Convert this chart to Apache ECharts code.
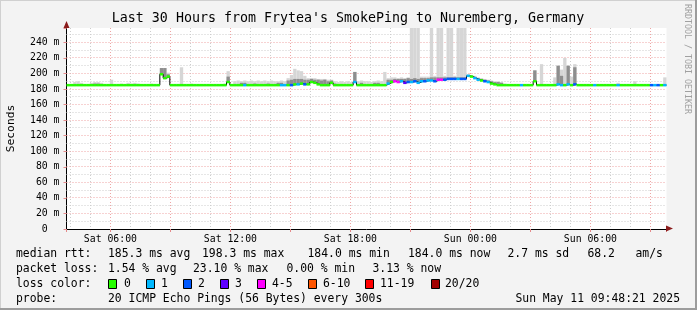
<!DOCTYPE html>
<html><head><meta charset="utf-8">
<script src="https://cdn.jsdelivr.net/npm/echarts@6/dist/echarts.min.js"></script>
<style>html,body{margin:0;padding:0;background:#f3f3f3}#c{width:697px;height:310px}</style>
</head><body><div id="c"></div>
<script>
// ---- data (10-minute slots, 30 hours, starting Sat 03:48:21) ----
const startHour = 3 + 48/60 + 21/3600;
const stepHours = 10/60;
const spanHours = 30;

const median = [
185,185,185,185,185,185,185,185,185,185,185,185,185,185,185,185,185,185,185,185,
185,185,185,185,185,185,185,185,199,194,196,185,185,185,185,185,185,185,185,185,
185,185,185,185,185,185,185,185,189,185,185,185,185,185,185,185,185,185,185,185,
185,185,185,185,185,185,185,185,186,186,187,186,186,189,188,186,185,185,185,188,
185,185,185,185,185,185,189,185,185,185,185,185,185,185,185,185,187,189,190,189,
190,188,189,189,190,188,190,190,191,191,190,192,192,192,193,193,193,193,193,193,
197,196,194,192,191,190,189,187,186,185,185,185,185,185,185,185,185,185,185,185,
190,185,185,185,185,185,185,186,185,185,186,185,186,185,185,185,185,185,185,185,
185,185,185,185,185,185,185,185,185,185,185,185,185,185,185,185,185,185,185,185];

const loss = [
0,0,0,0,0,0,0,0,0,0,0,0,0,0,0,0,0,0,0,0,
0,0,0,0,0,0,0,0,0,0,0,0,0,0,0,0,0,0,0,0,
0,0,0,0,0,0,0,0,0,0,0,0,0,1,0,0,0,0,0,0,
0,0,0,0,1,1,0,2,0,1,0,2,0,0,0,0,0,0,0,0,
0,0,0,0,0,0,1,0,0,0,0,0,0,0,0,0,1,0,4,4,
1,3,2,1,2,1,1,2,1,1,2,4,4,2,2,2,2,1,2,2,
1,0,1,1,0,2,1,0,0,0,0,0,0,0,0,0,1,0,0,0,
0,0,0,0,0,0,0,1,1,0,1,0,2,0,0,0,0,0,1,0,
0,0,0,0,0,1,0,0,0,0,0,0,0,0,0,2,1,2,0,1];

const smokeLight = [
185,185,189,190,188,185,185,188,189,189,188,185,185,192,185,185,187,185,188,187,
188,187,185,185,185,187,185,185,207,207,201,185,185,185,208,185,185,187,185,185,
185,185,185,185,185,185,185,187,203,186,190,191,190,191,190,191,190,191,190,191,
190,191,190,190,191,190,194,198,206,204,203,197,194,194,194,193,193,193,192,192,
190,189,190,189,190,189,202,190,191,190,190,189,190,191,190,202,194,195,195,194,
195,194,195,260,260,260,196,196,196,260,197,260,260,197,260,260,197,260,260,260,
199,198,197,195,194,193,192,191,190,190,189,187,185,185,185,185,185,185,185,185,
204,185,212,185,185,185,195,210,205,220,210,196,212,185,185,185,185,185,185,185,
185,185,185,185,185,188,185,185,185,185,190,185,185,185,185,185,185,185,185,195];

const smokeDark = [
185,185,185,185,185,185,185,185,187,187,185,185,185,185,185,185,185,185,185,185,
185,185,185,185,185,185,185,185,207,207,199,185,185,185,185,185,185,185,185,185,
185,185,185,185,185,185,185,185,196,185,185,185,188,188,185,185,187,185,185,185,
187,185,185,188,188,185,191,192,193,193,193,192,192,193,192,192,191,192,190,191,
187,185,185,185,185,185,202,185,188,185,185,185,188,188,185,185,192,192,193,193,
193,193,194,193,194,193,194,194,194,195,195,195,195,195,195,195,195,195,195,195,
197,196,195,194,193,192,191,190,189,189,188,185,185,185,185,185,185,185,185,185,
204,185,185,185,185,185,185,210,197,185,210,185,208,185,185,185,185,185,185,185,
185,185,185,185,185,185,185,185,185,185,185,185,185,185,185,185,185,185,185,185];

const lossColors = ['#26ff00','#00b8ff','#0059ff','#5e00ff','#ff00ff','#ff5500','#ff0000','#a10000'];
const lossLabels = ['0','1','2','3','4-5','6-10','11-19','20/20'];

const hourTicks = [4,5,6,7,8,9,10,11,12,13,14,15,16,17,18,19,20,21,22,23,24,25,26,27,28,29,30,31,32,33];
const majorHourTicks = [6,9,12,15,18,21,24,27,30,33];
const msMinorTicks = [10,30,50,70,90,110,130,150,170,190,210,230,250];
const msMajorTicks = [20,40,60,80,100,120,140,160,180,200,220,240];
const yMax = 258.5;

const titleText = "Last 30 Hours from Frytea's SmokePing to Nuremberg, Germany";
const rttRow = ['median rtt:','185.3 ms avg','198.3 ms max','184.0 ms min','184.0 ms now','2.7 ms sd','68.2','am/s'];
const lossRow = ['packet loss:','1.54 % avg','23.10 % max','0.00 % min','3.13 % now'];
const probeRow = ['probe:','20 ICMP Echo Pings (56 Bytes) every 300s'];
const dateText = 'Sun May 11 09:48:21 2025';
const vendorText = 'RRDTOOL / TOBI OETIKER';

// ---- chart ----
const FONT = "'DejaVu Sans Mono', monospace";
const times = median.map((_, i) => startHour + i * stepHours);

function vGrid(values, color) {
  return {
    type: 'custom', z: 1, silent: true, clip: false,
    data: values.map(v => [v, 0]),
    encode: {x: 0, y: 1},
    renderItem(params, api) {
      const cs = params.coordSys;
      const x = Math.floor(api.coord([api.value(0), 0])[0]) + 0.5;
      return {type: 'line', shape: {x1: x, y1: cs.y, x2: x, y2: cs.y + cs.height},
              style: {stroke: color, lineWidth: 1, lineDash: [1, 2]}};
    }
  };
}
function hGrid(values, color) {
  return {
    type: 'custom', z: 1, silent: true, clip: false,
    data: values.map(v => [startHour, v]),
    encode: {x: 0, y: 1},
    renderItem(params, api) {
      const cs = params.coordSys;
      const y = Math.floor(api.coord([startHour, api.value(1)])[1]) + 0.5;
      return {type: 'line', shape: {x1: cs.x, y1: y, x2: cs.x + cs.width, y2: y},
              style: {stroke: color, lineWidth: 1, lineDash: [1, 2]}};
    }
  };
}
function smoke(tops, color, z) {
  return {
    type: 'custom', z: z, silent: true, clip: true,
    data: times.map((t, i) => [t, t + stepHours, median[i], tops[i]]),
    encode: {x: [0, 1], y: [2, 3]},
    renderItem(params, api) {
      if (api.value(3) <= api.value(2)) return null;
      const cs = params.coordSys;
      const a = api.coord([api.value(0), api.value(3)]);
      const b = api.coord([api.value(1), api.value(2)]);
      const top = Math.max(a[1], cs.y);
      return {type: 'rect', shape: {x: a[0], y: top, width: b[0] - a[0], height: b[1] - top},
              style: {fill: color}};
    }
  };
}

const stepData = times.map((t, i) => [t, median[i]]);
stepData.push([startHour + median.length * stepHours, median[median.length - 1]]);

const xLabel = v => {
  const r = v / 6;
  if (Math.abs(r - Math.round(r)) > 1e-6) return '';
  const h = Math.round(v);
  const d = h < 24 ? 'Sat' : 'Sun';
  return d + ' ' + String(h % 24).padStart(2, '0') + ':00';
};

const graphics = [];
// frame
graphics.push({type:'rect', shape:{x:0,y:0,width:697,height:1}, style:{fill:'#d0d0d0'}, silent:true});
graphics.push({type:'rect', shape:{x:0,y:0,width:1,height:310}, style:{fill:'#d0d0d0'}, silent:true});
graphics.push({type:'rect', shape:{x:695,y:0,width:2,height:310}, style:{fill:'#9c9c9c'}, silent:true});
graphics.push({type:'rect', shape:{x:0,y:308,width:697,height:2}, style:{fill:'#9c9c9c'}, silent:true});
// arrows
graphics.push({type:'polygon', shape:{points:[[63.5,28],[66.5,21],[69.5,28]]}, style:{fill:'#8b1c1c'}, silent:true, z:100});
graphics.push({type:'polygon', shape:{points:[[666,225.5],[673,228.5],[666,231.5]]}, style:{fill:'#8b1c1c'}, silent:true, z:100});
// title
graphics.push({type:'text', x:348, y:19, style:{text:titleText, font:'13.3px ' + FONT, fill:'#000', align:'center', verticalAlign:'middle'}});
graphics.push({type:'text', x:687, y:59, rotation:-Math.PI/2, style:{text:vendorText, font:'8.3px ' + FONT, fill:'#a0a0a0', align:'center', verticalAlign:'middle'}});
const LF = '11.4px ' + FONT;
const rttX = [16,108,202,307.5,408,507.5,587.5,635.5];
rttRow.forEach((s, i) => graphics.push({type:'text', x:rttX[i], y:254, style:{text:s, font:LF, fill:'#000', align:'left', verticalAlign:'middle'}}));
const lossX = [16,108,193,286.5,372.5];
lossRow.forEach((s, i) => graphics.push({type:'text', x:lossX[i], y:269, style:{text:s, font:LF, fill:'#000', align:'left', verticalAlign:'middle'}}));
graphics.push({type:'text', x:16, y:284, style:{text:'loss color:', font:LF, fill:'#000', align:'left', verticalAlign:'middle'}});
const boxX = [108,146,183,220,257,308,365,431];
const boxLabelX = [124,161,198,235,272,323,380,445];
lossLabels.forEach((s, i) => {
  graphics.push({type:'rect', shape:{x:boxX[i]+0.5, y:279.5, width:8, height:9}, style:{fill:lossColors[i], stroke:'#000', lineWidth:1}});
  graphics.push({type:'text', x:boxLabelX[i], y:284, style:{text:s, font:LF, fill:'#000', align:'left', verticalAlign:'middle'}});
});
const probeX = [16,108];
probeRow.forEach((s, i) => graphics.push({type:'text', x:probeX[i], y:299, style:{text:s, font:LF, fill:'#000', align:'left', verticalAlign:'middle'}}));
graphics.push({type:'text', x:680, y:299, style:{text:dateText, font:LF, fill:'#000', align:'right', verticalAlign:'middle'}});

const chart = echarts.init(document.getElementById('c'), null, {renderer:'canvas', width:697, height:310});
chart.setOption({
  animation: false,
  backgroundColor: '#f3f3f3',
  grid: {left: 66.5, top: 28, width: 600, height: 201, show: true, backgroundColor: '#ffffff', borderWidth: 0,
         containLabel: false, outerBoundsMode: 'none'},
  xAxis: {
    type: 'value', min: startHour, max: startHour + spanHours, minInterval: 3, maxInterval: 3, splitNumber: 10,
    splitLine: {show: false},
    axisLine: {show: true, onZero: false, lineStyle: {color: '#000', width: 1}},
    axisTick: {show: true, length: 3, lineStyle: {color: '#e58a8a'}},
    axisLabel: {interval: 0, formatter: xLabel, color: '#000', fontFamily: FONT, fontSize: 9.8, margin: 5, showMinLabel: true, showMaxLabel: true}
  },
  yAxis: {
    type: 'value', min: 0, max: yMax, interval: 20,
    name: 'Seconds', nameLocation: 'middle', nameGap: 50, nameRotate: 90,
    nameTextStyle: {color: '#000', fontFamily: FONT, fontSize: 11.3},
    splitLine: {show: false},
    axisLine: {show: true, lineStyle: {color: '#000', width: 1}},
    axisTick: {show: true, length: 3, lineStyle: {color: '#e58a8a'}},
    axisLabel: {color: '#000', fontFamily: FONT, fontSize: 9.8, margin: 7,
      formatter: v => (Math.abs(v % 20) > 1e-6 ? '' : (v === 0 ? '0  ' : v + ' m'))}
  },
  graphic: graphics,
  series: [
    vGrid(hourTicks, '#cdcdcd'),
    hGrid(msMinorTicks, '#cdcdcd'),
    vGrid(majorHourTicks, '#eea5a5'),
    hGrid(msMajorTicks, '#eea5a5'),
    smoke(smokeLight, '#d6d6d6', 3),
    smoke(smokeDark, '#8e8e8e', 4),
    {type: 'line', z: 5, step: 'end', data: stepData, symbol: 'none', silent: true,
     lineStyle: {color: '#000', width: 1}},
    {type: 'custom', z: 6, silent: true, clip: true,
     data: times.map((t, i) => [t, t + stepHours, median[i], loss[i]]),
     encode: {x: [0, 1], y: 2},
     renderItem(params, api) {
       const a = api.coord([api.value(0), api.value(2)]);
       const b = api.coord([api.value(1), api.value(2)]);
       return {type: 'line', shape: {x1: a[0], y1: a[1], x2: b[0], y2: b[1]},
               style: {stroke: lossColors[api.value(3)], lineWidth: 2.5, lineCap: 'butt'}};
     }}
  ]
});
</script>
</body></html>
